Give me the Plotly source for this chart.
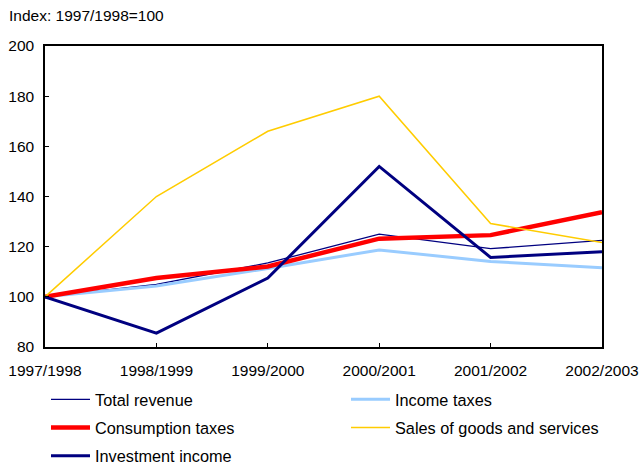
import plotly.graph_objects as go

# Fiscal years on the horizontal axis
years = ["1997/1998", "1998/1999", "1999/2000", "2000/2001", "2001/2002", "2002/2003"]

# Revenue indices, 1997/1998 = 100
total_revenue = [100, 105.0, 113.5, 125.0, 119.2, 122.5]
income_taxes = [100, 104.3, 111.3, 118.7, 114.1, 111.6]
consumption_taxes = [100, 107.5, 112.1, 123.2, 124.6, 133.7]
sales_goods_services = [100, 140.0, 166.0, 180.0, 129.2, 121.7]
investment_income = [100, 85.5, 107.5, 152.0, 115.7, 118.0]

# name, values, colour, width, legend column
series = [
    ("Total revenue", total_revenue, "#000080", 1.3, "legend"),
    ("Income taxes", income_taxes, "#99ccff", 3, "legend2"),
    ("Consumption taxes", consumption_taxes, "#ff0000", 4.5, "legend"),
    ("Sales of goods and services", sales_goods_services, "#ffcc00", 1.5, "legend2"),
    ("Investment income", investment_income, "#000080", 3, "legend"),
]

fig = go.Figure()
for name, vals, color, width, leg in series:
    fig.add_trace(go.Scatter(
        x=years, y=vals, name=name, mode="lines",
        line=dict(color=color, width=width),
        legend=leg, legendgroup=name,
    ))

family = "Liberation Sans, Arial, sans-serif"
font = dict(family=family, size=15.5, color="#000000")
legend_font = dict(family=family, size=16.3, color="#000000")

legend_style = dict(
    orientation="v", xanchor="left", yanchor="top", y=-0.117,
    itemwidth=39, font=legend_font, bgcolor="rgba(0,0,0,0)",
    tracegroupgap=4,
)

fig.update_layout(
    width=639, height=466,
    margin=dict(l=45, r=37, t=46, b=119, autoexpand=False),
    paper_bgcolor="white", plot_bgcolor="white",
    font=font,
    showlegend=True,
    legend=dict(x=0.0018, **legend_style),
    legend2=dict(x=0.5404, **legend_style),
    annotations=[dict(
        text="Index: 1997/1998=100", xref="paper", yref="paper",
        x=-0.068, y=1.135, xanchor="left", yanchor="top",
        showarrow=False, font=font,
    )],
)
fig.update_xaxes(
    type="category", range=[0, 5], showgrid=False,
    showline=True, linecolor="#000000", linewidth=1.5, mirror=True,
    ticks="inside", ticklen=4, tickcolor="#000000",
    tickfont=font, ticklabelstandoff=9,
)
fig.update_yaxes(
    range=[80, 200], dtick=20, showgrid=False, zeroline=False,
    showline=True, linecolor="#000000", linewidth=1.5, mirror=True,
    ticks="inside", ticklen=4, tickcolor="#000000",
    tickfont=font, ticklabelstandoff=6,
)

fig.write_html("out.html")
